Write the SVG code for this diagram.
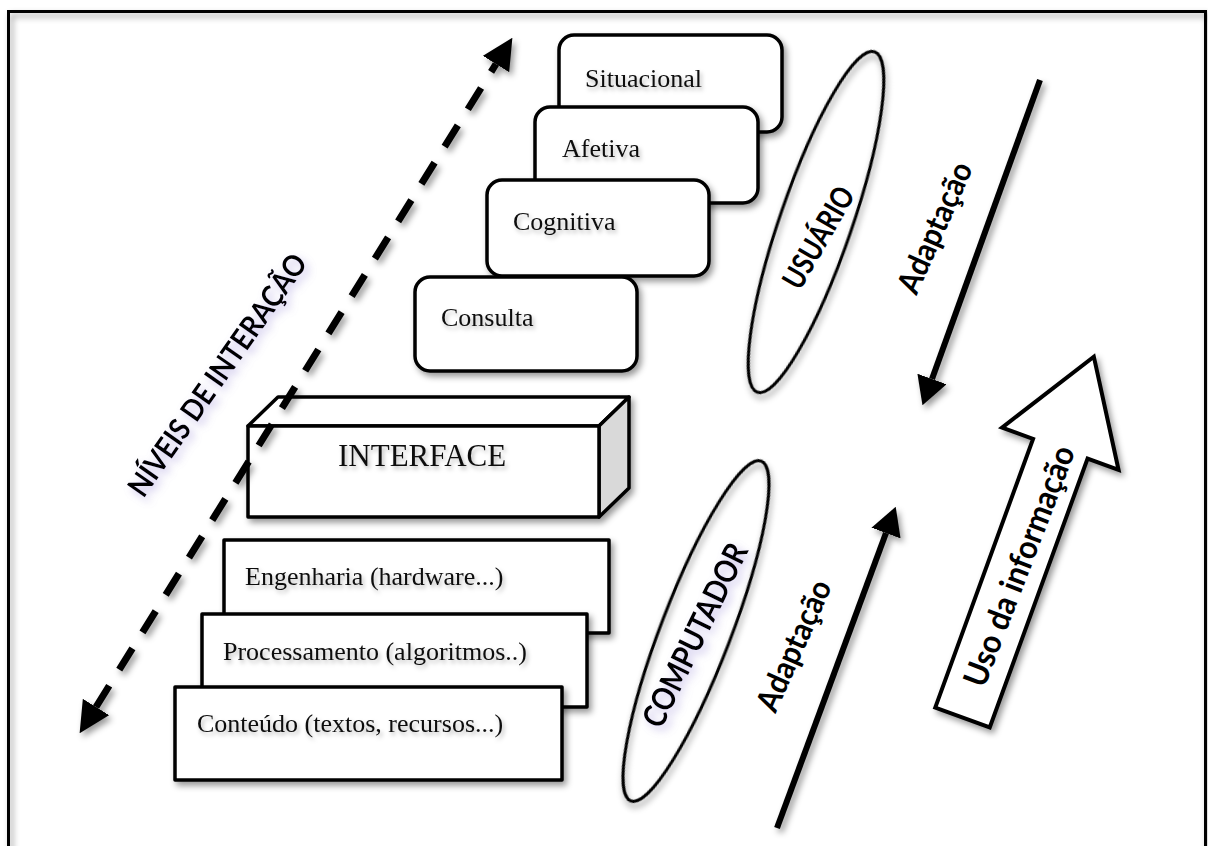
<svg xmlns="http://www.w3.org/2000/svg" width="1208" height="846" viewBox="0 0 1208 846">
  <defs>
    <style>
      .box{fill:#fff;stroke:#000;stroke-width:3.5;stroke-linejoin:round}
      .lbl{font-family:"Liberation Serif","Times New Roman",serif;font-size:26px;fill:#111}
      .big{font-size:31px}
      .sans{font-family:Lato,"Open Sans",sans-serif;font-weight:700;fill:#000}
      .ell{fill:#fff;fill-opacity:0;stroke:#000;stroke-width:3}
      .solid{fill:none;stroke:#000;stroke-width:6}
      .dash{fill:none;stroke:#000;stroke-width:7;stroke-dasharray:25 19}
    </style>
    <filter id="shadow" x="-20%" y="-20%" width="140%" height="140%">
      <feDropShadow dx="3" dy="4" stdDeviation="3" flood-color="#000" flood-opacity="0.4"/>
    </filter>
    <filter id="tshadow" x="-10%" y="-40%" width="120%" height="180%">
      <feDropShadow dx="2" dy="3" stdDeviation="2" flood-color="#000" flood-opacity="0.28"/>
    </filter>
    <filter id="glow" x="-20%" y="-20%" width="140%" height="140%">
      <feGaussianBlur in="SourceAlpha" stdDeviation="4" result="b"/>
      <feOffset in="b" dx="4" dy="4" result="o"/>
      <feFlood flood-color="#8f80d2" flood-opacity="0.5"/>
      <feComposite in2="o" operator="in" result="s"/>
      <feMerge><feMergeNode in="s"/><feMergeNode in="SourceGraphic"/></feMerge>
    </filter>
    <marker id="head-dash" viewBox="0 0 31 31" markerWidth="31" markerHeight="31" refX="0" refY="15.5" markerUnits="userSpaceOnUse" orient="auto-start-reverse">
      <path d="M0,0 L31,15.5 L0,31 Z" fill="#000"/>
    </marker>
    <marker id="head" viewBox="0 0 28 31" markerWidth="28" markerHeight="31" refX="0" refY="15.5" markerUnits="userSpaceOnUse" orient="auto">
      <path d="M0,0 L28,15.5 L0,31 Z" fill="#000"/>
    </marker>
  </defs>

  <rect width="1208" height="846" fill="#fff"/>
  <rect id="frame" x="8.5" y="11.5" width="1197" height="900" fill="none" stroke="#000" stroke-width="3" filter="url(#shadow)"/>

  <!-- user-side levels -->
  <g id="situacional">
    <rect class="box" x="559" y="35" width="223" height="97" rx="15" filter="url(#shadow)"/>
    <text class="lbl" x="585" y="87" filter="url(#tshadow)">Situacional</text>
  </g>
  <g id="afetiva">
    <rect class="box" x="535" y="107" width="223" height="96" rx="15" filter="url(#shadow)"/>
    <text class="lbl" x="562" y="157" filter="url(#tshadow)">Afetiva</text>
  </g>
  <g id="cognitiva">
    <rect class="box" x="487" y="180" width="222" height="96" rx="15" filter="url(#shadow)"/>
    <text class="lbl" x="513" y="230" filter="url(#tshadow)">Cognitiva</text>
  </g>
  <g id="consulta">
    <rect class="box" x="415" y="277" width="222" height="94" rx="15" filter="url(#shadow)"/>
    <text class="lbl" x="441" y="326" filter="url(#tshadow)">Consulta</text>
  </g>

  <!-- interface block -->
  <g id="interface">
    <g filter="url(#shadow)">
      <polygon class="box" points="248,426 278,397 629,397 599,426"/>
      <polygon class="box" points="599,426 629,397 629,488 599,517" style="fill:#d9d9d9"/>
      <rect class="box" x="248" y="426" width="351" height="91"/>
    </g>
    <text class="lbl big" x="338" y="466" filter="url(#tshadow)">INTERFACE</text>
  </g>

  <!-- computer-side layers -->
  <g id="engenharia">
    <rect class="box" x="224" y="540" width="385" height="93" filter="url(#shadow)"/>
    <text class="lbl" x="245" y="585" filter="url(#tshadow)">Engenharia (hardware...)</text>
  </g>
  <g id="processamento">
    <rect class="box" x="202" y="614" width="385" height="93" filter="url(#shadow)"/>
    <text class="lbl" x="223" y="660" filter="url(#tshadow)">Processamento (algoritmos..)</text>
  </g>
  <g id="conteudo">
    <rect class="box" x="175" y="687" width="387" height="93" filter="url(#shadow)"/>
    <text class="lbl" x="197" y="732" filter="url(#tshadow)">Conteúdo (textos, recursos...)</text>
  </g>

  <!-- side ellipses -->
  <g id="usuario">
    <ellipse class="ell" cx="816" cy="222" rx="36" ry="180" transform="rotate(19 816 222)" filter="url(#shadow)"/>
    <text class="sans" font-size="31" text-anchor="middle" textLength="112" lengthAdjust="spacingAndGlyphs" transform="translate(828 243) rotate(-60)">USUÁRIO</text>
  </g>
  <g id="computador">
    <ellipse class="ell" cx="696" cy="631" rx="35" ry="182" transform="rotate(21 696 631)" filter="url(#shadow)"/>
    <g filter="url(#glow)">
      <text class="sans" font-size="32" text-anchor="middle" textLength="200" lengthAdjust="spacingAndGlyphs" transform="translate(705 640) rotate(-64)">COMPUTADOR</text>
    </g>
  </g>

  <!-- information use block arrow -->
  <g id="uso-informacao">
    <g filter="url(#shadow)">
      <polygon points="-29,0 -29,-286 -62,-286 0,-384 62,-286 29,-286 29,0" transform="translate(962.5 717.5) rotate(20)" fill="#fff" stroke="#000" stroke-width="4"/>
    </g>
    <text class="sans" font-size="33" text-anchor="middle" textLength="255" lengthAdjust="spacingAndGlyphs" transform="translate(1030 570) rotate(-69)">Uso da informação</text>
  </g>

  <!-- axis label -->
  <g id="niveis">
    <g filter="url(#glow)">
      <text class="sans" font-size="30" text-anchor="middle" textLength="288" lengthAdjust="spacingAndGlyphs" transform="translate(226 381) rotate(-55)">NÍVEIS DE INTERAÇÃO</text>
    </g>
  </g>

  <!-- connectors -->
  <g id="connectors" filter="url(#shadow)">
    <path class="dash" d="M96,707 L496,64" marker-start="url(#head-dash)" marker-end="url(#head-dash)"/>
    <path class="solid" d="M1040,80 L932,379" marker-end="url(#head)"/>
    <path class="solid" d="M777,828 L886,533" marker-end="url(#head)"/>
  </g>
  <g id="connector-labels">
    <text class="sans" font-size="32" text-anchor="middle" textLength="140" lengthAdjust="spacingAndGlyphs" transform="translate(945 232) rotate(-66)">Adaptação</text>
    <text class="sans" font-size="32" text-anchor="middle" textLength="140" lengthAdjust="spacingAndGlyphs" transform="translate(804 650) rotate(-66)">Adaptação</text>
  </g>
</svg>
